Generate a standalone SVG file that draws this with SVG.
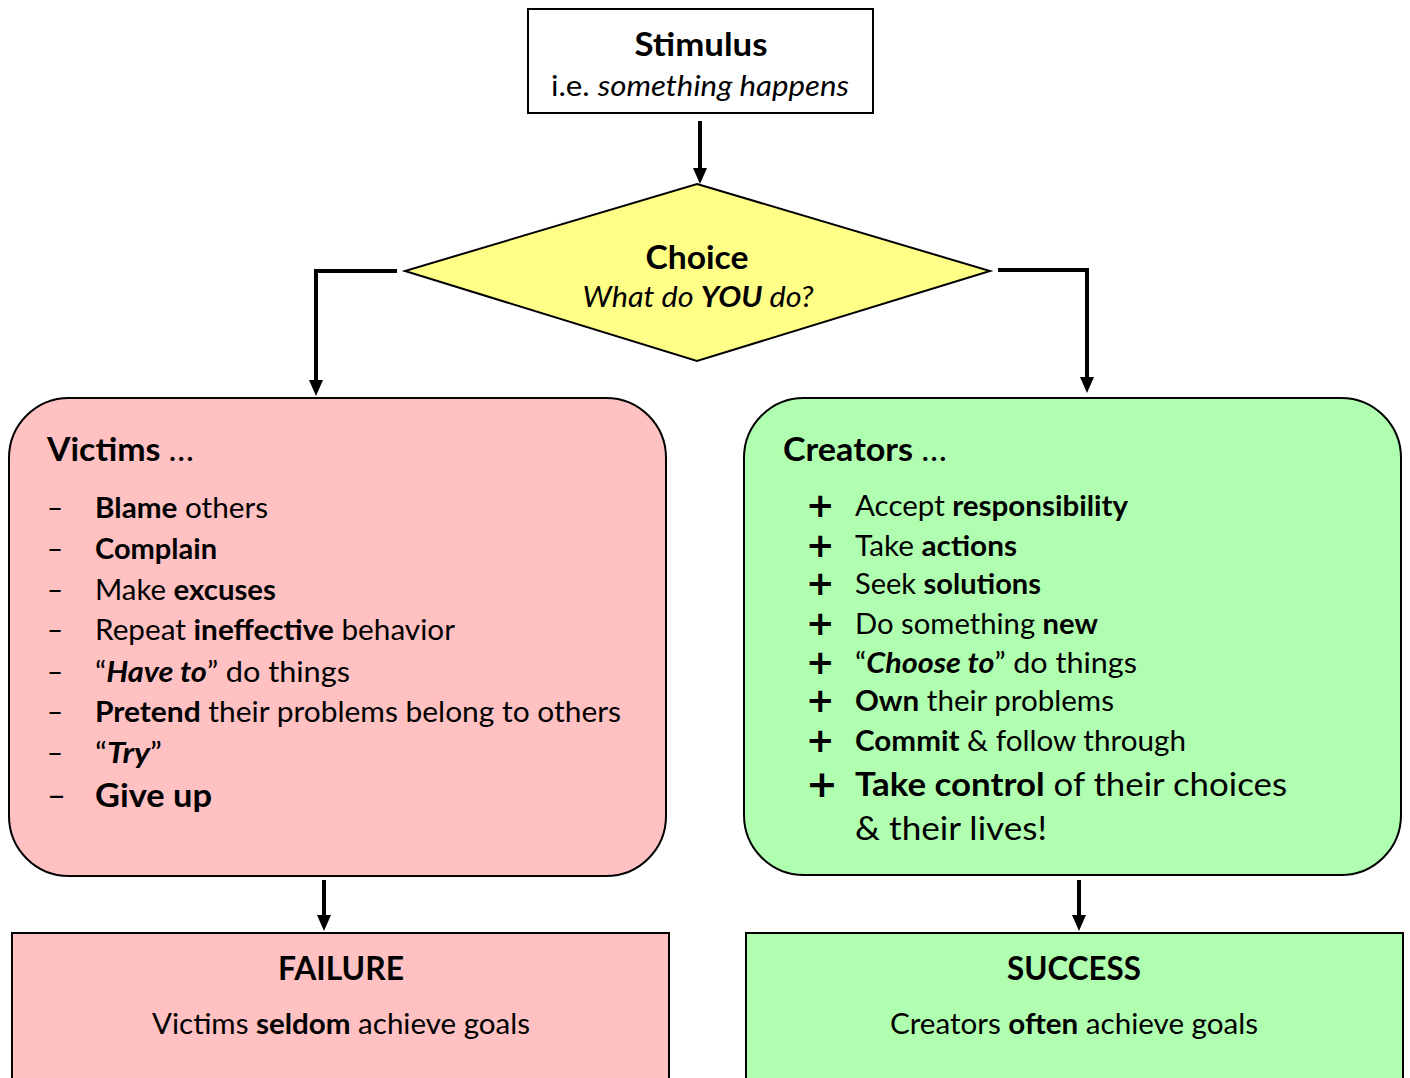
<svg xmlns="http://www.w3.org/2000/svg" width="1410" height="1078" viewBox="0 0 1410 1078">
<style>
text{font-family:Lato,"Open Sans","Liberation Sans",sans-serif;fill:#000}
.t{font-size:32px;font-weight:bold}
.s{font-size:28px}
.b{font-weight:bold}
.i{font-style:italic}
.li{font-size:28.5px}
.big{font-size:33px}
.pl{font-family:"DejaVu Sans",sans-serif;font-size:34px;font-weight:bold}
.box{stroke:#000;stroke-width:2}
.con{fill:none;stroke:#000;stroke-width:4}
</style>
<defs>
<marker id="a" markerWidth="16" markerHeight="14" refX="0" refY="7" orient="auto" markerUnits="userSpaceOnUse" viewBox="0 0 16 14">
<path d="M0 0 L16 7 L0 14 Z" fill="#000"/>
</marker>
</defs>
<g id="connectors">
<path class="con" d="M700 121 V168" marker-end="url(#a)"/>
<path class="con" d="M397 271 H316 V380" marker-end="url(#a)"/>
<path class="con" d="M998 270 H1087 V377" marker-end="url(#a)"/>
<path class="con" d="M324 880 V915" marker-end="url(#a)"/>
<path class="con" d="M1079 880 V915" marker-end="url(#a)"/>
</g>
<g id="stimulus">
<rect class="box" x="528" y="9" width="345" height="104" fill="#fff"/>
<text class="t" x="701" y="56" text-anchor="middle" textLength="133" lengthAdjust="spacingAndGlyphs">Stimulus</text>
<text class="s" x="700" y="96" text-anchor="middle" textLength="298" lengthAdjust="spacingAndGlyphs">i.e. <tspan class="i">something happens</tspan></text>
</g>
<g id="choice">
<polygon class="box" points="697,184 990,271 697,361 405,271" fill="#FFFF88"/>
<text class="t" x="697" y="269" text-anchor="middle" textLength="103" lengthAdjust="spacingAndGlyphs">Choice</text>
<text class="s i" x="698" y="307" text-anchor="middle" textLength="231" lengthAdjust="spacingAndGlyphs">What do <tspan class="b">YOU</tspan> do?</text>
</g>
<g id="victims">
<rect class="box" x="9" y="398" width="657" height="478" rx="60" fill="#FFC1C1"/>
<text class="t" x="47" y="461" textLength="147" lengthAdjust="spacingAndGlyphs">Victims <tspan font-weight="normal">…</tspan></text>
<g class="li">
<text x="47" y="518" textLength="16" lengthAdjust="spacingAndGlyphs">–</text><text x="95" y="518" textLength="173" lengthAdjust="spacingAndGlyphs"><tspan class="b">Blame</tspan> others</text>
<text x="47" y="559" textLength="16" lengthAdjust="spacingAndGlyphs">–</text><text x="95" y="559" class="b" textLength="122" lengthAdjust="spacingAndGlyphs">Complain</text>
<text x="47" y="600" textLength="16" lengthAdjust="spacingAndGlyphs">–</text><text x="95" y="600" textLength="181" lengthAdjust="spacingAndGlyphs">Make <tspan class="b">excuses</tspan></text>
<text x="47" y="640" textLength="16" lengthAdjust="spacingAndGlyphs">–</text><text x="95" y="640" textLength="360" lengthAdjust="spacingAndGlyphs">Repeat <tspan class="b">ineffective</tspan> behavior</text>
<text x="47" y="682" textLength="16" lengthAdjust="spacingAndGlyphs">–</text><text x="95" y="682" textLength="255" lengthAdjust="spacingAndGlyphs">“<tspan class="b i">Have to</tspan>” do things</text>
<text x="47" y="722" textLength="16" lengthAdjust="spacingAndGlyphs">–</text><text x="95" y="722" textLength="526" lengthAdjust="spacingAndGlyphs"><tspan class="b">Pretend</tspan> their problems belong to others</text>
<text x="47" y="763" textLength="16" lengthAdjust="spacingAndGlyphs">–</text><text x="95" y="763" textLength="67" lengthAdjust="spacingAndGlyphs">“<tspan class="b i">Try</tspan>”</text>
</g>
<text class="big" x="47" y="807" textLength="19" lengthAdjust="spacingAndGlyphs">–</text><text class="big b" x="95" y="807" textLength="117" lengthAdjust="spacingAndGlyphs">Give up</text>
</g>
<g id="creators">
<rect class="box" x="744" y="398" width="657" height="477" rx="60" fill="#B0FFB0"/>
<text class="t" x="783" y="461" textLength="164" lengthAdjust="spacingAndGlyphs">Creators <tspan font-weight="normal">…</tspan></text>
<g>
<text class="pl" x="806" y="517">+</text><text class="li" x="855" y="516" textLength="273" lengthAdjust="spacingAndGlyphs">Accept <tspan class="b">responsibility</tspan></text>
<text class="pl" x="806" y="557">+</text><text class="li" x="855" y="556" textLength="162" lengthAdjust="spacingAndGlyphs">Take <tspan class="b">actions</tspan></text>
<text class="pl" x="806" y="595">+</text><text class="li" x="855" y="594" textLength="186" lengthAdjust="spacingAndGlyphs">Seek <tspan class="b">solutions</tspan></text>
<text class="pl" x="806" y="635">+</text><text class="li" x="855" y="634" textLength="243" lengthAdjust="spacingAndGlyphs">Do something <tspan class="b">new</tspan></text>
<text class="pl" x="806" y="674">+</text><text class="li" x="855" y="673" textLength="282" lengthAdjust="spacingAndGlyphs">“<tspan class="b i">Choose to</tspan>” do things</text>
<text class="pl" x="806" y="712">+</text><text class="li" x="855" y="711" textLength="259" lengthAdjust="spacingAndGlyphs"><tspan class="b">Own</tspan> their problems</text>
<text class="pl" x="806" y="752">+</text><text class="li" x="855" y="751" textLength="331" lengthAdjust="spacingAndGlyphs"><tspan class="b">Commit</tspan> &amp; follow through</text>
<text class="pl" x="806" y="797" style="font-size:38px">+</text><text class="big" x="855" y="796" textLength="432" lengthAdjust="spacingAndGlyphs"><tspan class="b">Take control</tspan> of their choices</text>
<text class="big" x="855" y="840" textLength="192" lengthAdjust="spacingAndGlyphs">&amp; their lives!</text>
</g>
</g>
<g id="failure">
<rect class="box" x="12" y="933" width="657" height="160" fill="#FFC1C1"/>
<text class="t" x="341" y="980" text-anchor="middle" textLength="126" lengthAdjust="spacingAndGlyphs">FAILURE</text>
<text class="s" x="341" y="1034" text-anchor="middle" textLength="378" lengthAdjust="spacingAndGlyphs">Victims <tspan class="b">seldom</tspan> achieve goals</text>
</g>
<g id="success">
<rect class="box" x="746" y="933" width="657" height="160" fill="#B0FFB0"/>
<text class="t" x="1074" y="980" text-anchor="middle" textLength="134" lengthAdjust="spacingAndGlyphs">SUCCESS</text>
<text class="s" x="1074" y="1034" text-anchor="middle" textLength="368" lengthAdjust="spacingAndGlyphs">Creators <tspan class="b">often</tspan> achieve goals</text>
</g>
</svg>
